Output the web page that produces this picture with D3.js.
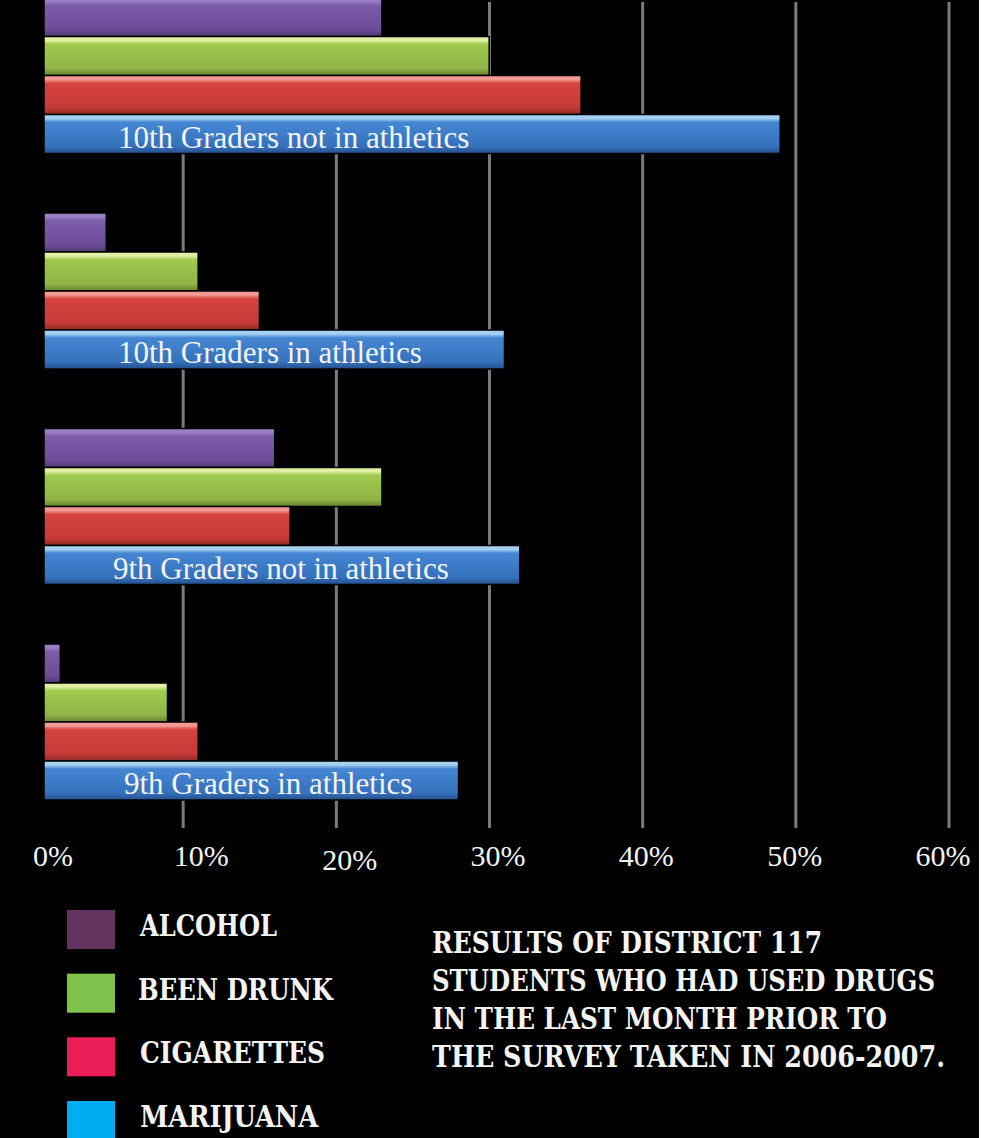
<!DOCTYPE html>
<html>
<head>
<meta charset="utf-8">
<script src="https://cdn.jsdelivr.net/npm/d3@7"></script>
<style>
  html, body { margin: 0; padding: 0; background: #ffffff; }
  svg { display: block; }
  .tick-label { font-family: "Liberation Serif", "DejaVu Serif", serif; font-size: 30px; fill: #f2f2f2; }
  .bar-label { font-family: "Liberation Serif", "DejaVu Serif", serif; font-size: 31px; fill: #f4f4f4; }
  .stencil { font-family: "DejaVu Serif Condensed", "DejaVu Serif", serif; font-weight: bold; font-size: 29px; fill: #f3f3f1; }
</style>
</head>
<body>
<svg id="chart" width="1004" height="1138"></svg>
<script>
//////////////////// DATA ////////////////////
// groups, top to bottom
const groups = [
    "10th Graders not in athletics",
    "10th Graders in athletics",
    "9th Graders not in athletics",
    "9th Graders in athletics"
];

// series, top to bottom inside a group
const series = ["Alcohol", "Been Drunk", "Cigarettes", "Marijuana"];

// percent values per series, in group order
const alcohol = [22, 4, 15, 1];
const beenDrunk = [29, 10, 22, 8];
const cigarettes = [35, 14, 16, 10];
const marijuana = [48, 30, 31, 27];

// axis ticks
const ticks = [0, 10, 20, 30, 40, 50, 60];

// legend and caption text
const legendLabels = ["ALCOHOL", "BEEN DRUNK", "CIGARETTES", "MARIJUANA"];
const captionLines = [
    "RESULTS OF DISTRICT 117",
    "STUDENTS WHO HAD USED DRUGS",
    "IN THE LAST MONTH PRIOR TO",
    "THE SURVEY TAKEN IN 2006-2007."
];


//////////////////// STYLES ////////////////////
// bar gradients: top highlight, body, lower body, bottom shade
const barColors = {
    "Alcohol":    ["#9c80c4", "#7d5cab", "#6c4c97", "#4f386f"],
    "Been Drunk": ["#e2f0a6", "#9fca4e", "#8fb446", "#66822e"],
    "Cigarettes": ["#f39a96", "#d6433f", "#c53a37", "#8e2826"],
    "Marijuana":  ["#a6d0f2", "#4586d2", "#3571bd", "#244f8a"]
};
const legendColors = ["#633460", "#7fc34c", "#ec1e5a", "#00adee"];

// text widths of the stencil lettering
const legendWidths = [137, 195, 185, 178];
const captionWidths = [390, 503, 455, 513];

// where each group label starts, measured from the bar start
const labelInset = [74, 74, 69, 80];


//////////////////// SETUP ////////////////////
const svg = d3.select("#chart");

// black panel and white strip on the right
svg.append("rect").attr("x", 0).attr("y", 0).attr("width", 1004).attr("height", 1138).attr("fill", "#ffffff");
svg.append("rect").attr("x", 0).attr("y", 0).attr("width", 979).attr("height", 1138).attr("fill", "#000000");

// gradients
const defs = svg.append("defs");
series.forEach((s, i) => {
    const c = barColors[s];
    const g = defs.append("linearGradient")
        .attr("id", "grad" + i)
        .attr("x1", 0).attr("y1", 0).attr("x2", 0).attr("y2", 1);
    g.append("stop").attr("offset", "0%").attr("stop-color", c[0]);
    g.append("stop").attr("offset", "10%").attr("stop-color", c[0]);
    g.append("stop").attr("offset", "20%").attr("stop-color", c[1]);
    g.append("stop").attr("offset", "82%").attr("stop-color", c[2]);
    g.append("stop").attr("offset", "100%").attr("stop-color", c[3]);
});


//////////////////// SCALES ////////////////////
// back-wall scale (gridlines)
const x = d3.scaleLinear().domain([0, 60]).range([30, 949]);
// bars sit in front of the wall, shifted right
const depth = 14;

// groups
const y = d3.scaleBand()
    .domain(groups)
    .range([-2.5, 800])
    .paddingInner(0.276)
    .paddingOuter(0);

// bars inside a group
const ySub = d3.scaleBand()
    .domain(series)
    .range([0, y.bandwidth()])
    .padding(0);

// tick label placement
const xLabel = d3.scaleLinear().domain([0, 60]).range([53, 943]);


//////////////////// GRIDLINES ////////////////////
svg.append("g")
    .selectAll("line")
    .data(ticks.filter(t => t > 0))
    .join("line")
    .attr("x1", d => x(d))
    .attr("x2", d => x(d))
    .attr("y1", 2)
    .attr("y2", 828)
    .attr("stroke", "#7b7b7b")
    .attr("stroke-width", 3);


//////////////////// BARS ////////////////////
const seriesValues = [alcohol, beenDrunk, cigarettes, marijuana];
const barData = [];
groups.forEach((g, gi) => {
    series.forEach((s, si) => {
        barData.push({ group: g, series: s, index: si, value: seriesValues[si][gi] });
    });
});

svg.append("g")
    .selectAll("rect")
    .data(barData)
    .join("rect")
    .attr("x", x(0) + depth)
    .attr("y", d => y(d.group) + ySub(d.series))
    .attr("width", d => x(d.value) - x(0) + 1)
    .attr("height", ySub.bandwidth())
    .attr("fill", d => `url(#grad${d.index})`)
    .attr("stroke", "#000000")
    .attr("stroke-width", 1.5);

// group labels inside the marijuana bars
svg.append("g")
    .selectAll("text")
    .data(groups)
    .join("text")
    .attr("class", "bar-label")
    .attr("x", (d, i) => x(0) + depth + labelInset[i])
    .attr("y", d => y(d) + ySub("Marijuana") + ySub.bandwidth() - 6)
    .text(d => d);


//////////////////// AXIS LABELS ////////////////////
svg.append("g")
    .selectAll("text")
    .data(ticks)
    .join("text")
    .attr("class", "tick-label")
    .attr("text-anchor", "middle")
    .attr("x", d => xLabel(d))
    .attr("y", d => d === 20 ? 870 : 866)
    .text(d => d + "%");


//////////////////// LEGEND ////////////////////
const legendY = d3.scalePoint()
    .domain(legendLabels)
    .range([910, 1101]);

const legend = svg.append("g");
legend.selectAll("rect")
    .data(legendLabels)
    .join("rect")
    .attr("x", 67)
    .attr("y", d => legendY(d))
    .attr("width", 48)
    .attr("height", 39)
    .attr("fill", (d, i) => legendColors[i]);

legend.selectAll("text")
    .data(legendLabels)
    .join("text")
    .attr("class", "stencil")
    .attr("x", (d, i) => i === 1 ? 138 : 140)
    .attr("y", d => legendY(d) + 26)
    .attr("textLength", (d, i) => legendWidths[i])
    .attr("lengthAdjust", "spacingAndGlyphs")
    .text(d => d);


//////////////////// CAPTION ////////////////////
svg.append("g")
    .selectAll("text")
    .data(captionLines)
    .join("text")
    .attr("class", "stencil")
    .attr("x", 432)
    .attr("y", (d, i) => 953 + i * 38)
    .attr("textLength", (d, i) => captionWidths[i])
    .attr("lengthAdjust", "spacingAndGlyphs")
    .text(d => d);
</script>
</body>
</html>
